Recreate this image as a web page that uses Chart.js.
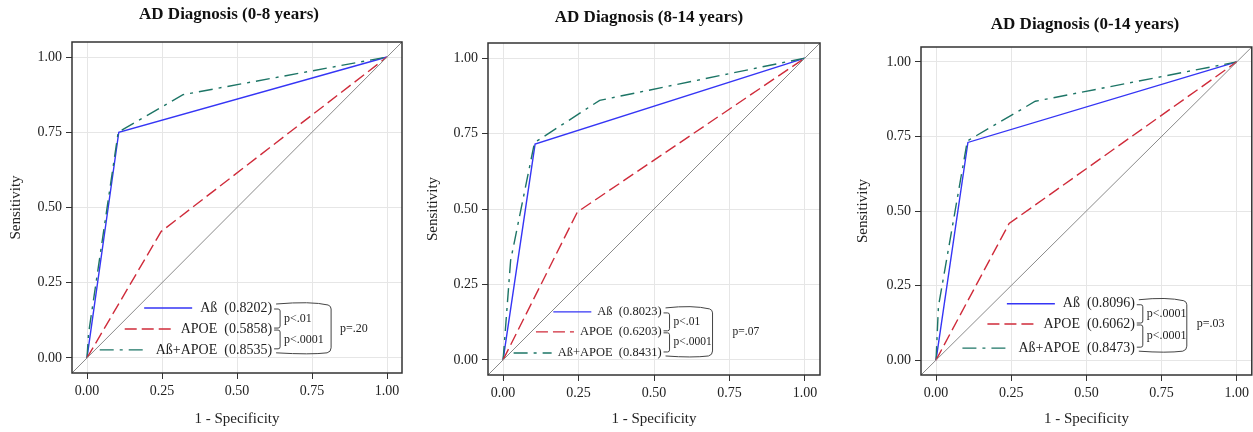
<!DOCTYPE html>
<html>
<head>
<meta charset="utf-8">
<script src="https://cdn.jsdelivr.net/npm/chart.js@4.4.0/dist/chart.umd.min.js"></script>
<style>
  body { margin: 0; background: #fff; width: 1253px; height: 432px; overflow: hidden; position: relative; }
  .panel { position: absolute; top: 0; height: 432px; }
</style>
</head>
<body>
<div class="panel" style="left:0px;width:420px"><canvas id="c1"></canvas></div>
<div class="panel" style="left:420px;width:420px"><canvas id="c2"></canvas></div>
<div class="panel" style="left:840px;width:413px"><canvas id="c3"></canvas></div>
<script>
// ROC data: [1 - specificity, sensitivity]
var titles = ['AD Diagnosis (0-8 years)', 'AD Diagnosis (8-14 years)', 'AD Diagnosis (0-14 years)'];
var seriesNames = ['A\u00DF', 'APOE', 'A\u00DF+APOE'];

var abX1 = [0, 0.106, 1];        var abY1 = [0, 0.75, 1];
var apoeX1 = [0, 0.247, 1];      var apoeY1 = [0, 0.42, 1];
var bothX1 = [0, 0.005, 0.104, 0.32, 1]; var bothY1 = [0, 0.08, 0.75, 0.875, 1];

var abX2 = [0, 0.106, 1];        var abY2 = [0, 0.715, 1];
var apoeX2 = [0, 0.246, 1];      var apoeY2 = [0, 0.49, 1];
var bothX2 = [0, 0.025, 0.104, 0.32, 1]; var bothY2 = [0, 0.33, 0.72, 0.86, 1];

var abX3 = [0, 0.106, 1];        var abY3 = [0, 0.73, 1];
var apoeX3 = [0, 0.243, 1];      var apoeY3 = [0, 0.458, 1];
var bothX3 = [0, 0.008, 0.104, 0.33, 1]; var bothY3 = [0, 0.18, 0.735, 0.868, 1];

var aucs1 = ['0.8202', '0.5858', '0.8535'];
var aucs2 = ['0.8023', '0.6203', '0.8431'];
var aucs3 = ['0.8096', '0.6062', '0.8473'];

var pairP1 = ['p<.01', 'p<.0001']; var overallP1 = 'p=.20';
var pairP2 = ['p<.01', 'p<.0001']; var overallP2 = 'p=.07';
var pairP3 = ['p<.0001', 'p<.0001']; var overallP3 = 'p=.03';

var axisTicks = [0, 0.25, 0.5, 0.75, 1];
var diagX = [-0.05, 1.05];

var colors = ['#3535f5', '#cf2b3a', '#1d7566'];
var dashes = [[], [12, 5], [14, 6, 3, 6]];
var serif = "'Liberation Serif', 'DejaVu Serif', serif";

function pts(xs, ys){
  var out = [];
  for(var i = 0; i < xs.length; i++){
    out.push({x: xs[i], y: ys[i]});
  }
  return out;
}

// title, frame, legend + comparison brackets
var rocLegend = {
  id: 'rocLegend',
  afterDatasetsDraw: function(chart){
    var o = chart.options.plugins.rocLegend;
    var ctx = chart.ctx;
    var xs = chart.scales.x, ys = chart.scales.y;
    var ca = chart.chartArea;

    ctx.save();
    ctx.strokeStyle = '#333';
    ctx.lineWidth = 1.5;
    ctx.strokeRect(ca.left, ca.top, ca.right - ca.left, ca.bottom - ca.top);
    ctx.fillStyle = '#111';
    ctx.font = 'bold 17px ' + serif;
    ctx.textAlign = 'center';
    ctx.textBaseline = 'middle';
    ctx.fillText(o.title, o.titleX, o.titleY);
    ctx.restore();

    var right = xs.getPixelForValue(o.textRight);
    var rows = [];
    for(var i = 0; i < o.rows.length; i++) rows.push(ys.getPixelForValue(o.rows[i]));

    ctx.save();
    ctx.font = o.fontSize + 'px ' + serif;
    ctx.textBaseline = 'middle';
    ctx.textAlign = 'right';
    for(var i = 0; i < rows.length; i++){
      var label = seriesNames[i] + '  (' + o.aucs[i] + ')';
      ctx.fillStyle = '#222';
      ctx.fillText(label, right, rows[i]);
      var w = ctx.measureText(label).width;
      var x2 = right - w - o.gap;
      ctx.strokeStyle = colors[i];
      ctx.lineWidth = 1.4;
      ctx.setLineDash(dashes[i]);
      ctx.beginPath();
      ctx.moveTo(x2 - o.lineLen, rows[i]);
      ctx.lineTo(x2, rows[i]);
      ctx.stroke();
    }
    ctx.setLineDash([]);

    // small brackets between neighbouring rows
    ctx.strokeStyle = '#444';
    ctx.lineWidth = 1;
    var bx = right + 8;
    for(var j = 0; j < 2; j++){
      var yA = rows[j] + 1, yB = rows[j + 1] - 1;
      ctx.beginPath();
      ctx.moveTo(right + 2, yA);
      ctx.lineTo(bx - 2, yA);
      ctx.quadraticCurveTo(bx, yA, bx, yA + 2);
      ctx.lineTo(bx, yB - 2);
      ctx.quadraticCurveTo(bx, yB, bx - 2, yB);
      ctx.lineTo(right + 2, yB);
      ctx.stroke();
    }
    // big bracket first to last row
    var Bx = right + o.bigX;
    var top = rows[0] - 5, bot = rows[2] + 3;
    ctx.beginPath();
    ctx.moveTo(right + 4, top + 1);
    ctx.quadraticCurveTo(Bx - 20, top - 2, Bx - 3, top + 2);
    ctx.quadraticCurveTo(Bx, top + 3, Bx, top + 6);
    ctx.lineTo(Bx, bot - 5);
    ctx.quadraticCurveTo(Bx, bot - 1, Bx - 4, bot);
    ctx.quadraticCurveTo(Bx - 20, bot + 2, right + 4, bot);
    ctx.stroke();

    ctx.fillStyle = '#222';
    ctx.textAlign = 'left';
    ctx.font = o.pSize + 'px ' + serif;
    ctx.fillText(o.pairP[0], bx + 4, (rows[0] + rows[1]) / 2);
    ctx.fillText(o.pairP[1], bx + 4, (rows[1] + rows[2]) / 2);
    ctx.fillText(o.overallP, right + o.pX, rows[1]);
    ctx.restore();
  }
};

function makeRoc(id, p){
  var ctx = document.getElementById(id);
  return new Chart(ctx, {
    type: 'line',
    data: {
      datasets: [
        {data: pts(diagX, diagX), borderColor: '#8a8a8a', borderWidth: 1},
        {data: pts(p.apoeX, p.apoeY), borderColor: colors[1], borderDash: dashes[1], borderWidth: 1.4},
        {data: pts(p.bothX, p.bothY), borderColor: colors[2], borderDash: dashes[2], borderWidth: 1.4},
        {data: pts(p.abX, p.abY), borderColor: colors[0], borderWidth: 1.4}
      ]
    },
    options: {
      responsive: false,
      animation: false,
      devicePixelRatio: 1,
      elements: {point: {radius: 0}, line: {tension: 0}},
      layout: {padding: {left: 0, right: p.padRight, top: p.top, bottom: 0}},
      plugins: {
        legend: {display: false},
        tooltip: {enabled: false},
        title: {display: false},
        rocLegend: p.legend
      },
      scales: {
        x: {
          type: 'linear', min: -0.05, max: 1.05,
          afterBuildTicks: function(s){ s.ticks = axisTicks.map(function(v){ return {value: v}; }); },
          afterFit: function(s){ s.height = 432 - p.bottom; },
          grid: {color: '#e6e6e6', tickColor: '#333', tickLength: 6},
          border: {display: false},
          ticks: {color: '#222', font: {family: serif, size: 14}, padding: 4, maxRotation: 0,
                  callback: function(v){ return v.toFixed(2); }},
          title: {display: true, text: '1 - Specificity', color: '#222',
                  font: {family: serif, size: 15}, padding: {top: 4, bottom: 4}}
        },
        y: {
          type: 'linear', min: -0.05, max: 1.05,
          afterBuildTicks: function(s){ s.ticks = axisTicks.map(function(v){ return {value: v}; }); },
          afterFit: function(s){ s.width = p.yWidth; },
          grid: {color: '#e6e6e6', tickColor: '#333', tickLength: 6},
          border: {display: false},
          ticks: {color: '#222', font: {family: serif, size: 14}, padding: 4,
                  callback: function(v){ return v.toFixed(2); }},
          title: {display: true, text: 'Sensitivity', color: '#222',
                  font: {family: serif, size: 15}, padding: {top: p.yTitlePad, bottom: 4}}
        }
      }
    },
    plugins: [rocLegend]
  });
}

function sizeCanvas(id, w){
  var c = document.getElementById(id);
  c.width = w; c.height = 432;
  c.style.width = w + 'px'; c.style.height = '432px';
}
sizeCanvas('c1', 420); sizeCanvas('c2', 420); sizeCanvas('c3', 413);

makeRoc('c1', {
  top: 42, bottom: 373, yWidth: 72, padRight: 18, yTitlePad: 7,
  abX: abX1, abY: abY1, apoeX: apoeX1, apoeY: apoeY1, bothX: bothX1, bothY: bothY1,
  legend: {title: titles[0], titleX: 229, titleY: 15,
           textRight: 0.617, rows: [0.166, 0.096, 0.027], aucs: aucs1, fontSize: 14, gap: 8, lineLen: 48,
           bigX: 59, pX: 68, pSize: 12, pairP: pairP1, overallP: overallP1}
});
makeRoc('c2', {
  top: 43, bottom: 375, yWidth: 68, padRight: 20, yTitlePad: 4,
  abX: abX2, abY: abY2, apoeX: apoeX2, apoeY: apoeY2, bothX: bothX2, bothY: bothY2,
  legend: {title: titles[1], titleX: 229, titleY: 18,
           textRight: 0.525, rows: [0.159, 0.093, 0.023], aucs: aucs2, fontSize: 12.5, gap: 6, lineLen: 38,
           bigX: 51, pX: 71, pSize: 11.5, pairP: pairP2, overallP: overallP2}
});
makeRoc('c3', {
  top: 47, bottom: 375, yWidth: 81, padRight: 0, yTitlePad: 14,
  abX: abX3, abY: abY3, apoeX: apoeX3, apoeY: apoeY3, bothX: bothX3, bothY: bothY3,
  legend: {title: titles[2], titleX: 245, titleY: 25,
           textRight: 0.661, rows: [0.189, 0.121, 0.040], aucs: aucs3, fontSize: 14, gap: 8, lineLen: 48,
           bigX: 52, pX: 62, pSize: 12, pairP: pairP3, overallP: overallP3}
});
</script>
</body>
</html>
